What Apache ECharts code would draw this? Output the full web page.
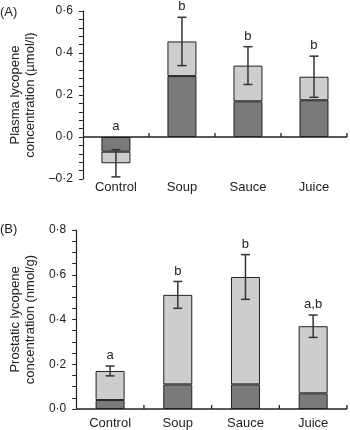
<!DOCTYPE html>
<html>
<head>
<meta charset="utf-8">
<script src="https://cdn.jsdelivr.net/npm/echarts@6/dist/echarts.min.js"></script>
<style>
  html, body { margin: 0; padding: 0; background: #fff; }
  .panel { width: 350px; height: 215px; }
</style>
</head>
<body>
<div class="panel" id="plasma_chart"></div>
<div class="panel" id="prostate_chart"></div>
<script>
const categories = ['Control', 'Soup', 'Sauce', 'Juice'];

// panel A - plasma lycopene (µmol/l)
const plasmaDark = [-0.07, 0.29, 0.17, 0.175];
const plasmaTotal = [-0.125, 0.455, 0.34, 0.287];
const plasmaErr = [0.065, 0.115, 0.09, 0.098];
const plasmaLetters = ['a', 'b', 'b', 'b'];

// panel B - prostatic lycopene (nmol/g)
const prostateDark = [0.04, 0.11, 0.11, 0.07];
const prostateTotal = [0.17, 0.51, 0.59, 0.37];
const prostateErr = [0.022, 0.06, 0.1, 0.05];
const prostateLetters = ['a', 'b', 'b', 'a,b'];

const FONT = 'Liberation Sans, Arial, sans-serif';
const INK = '#222';
const DARK = '#7a7a7a';
const LIGHT = '#cdcdcd';

const fmt = v => {
  if (Math.abs(v) < 1e-9) return '0\u00b70';
  return (v < 0 ? '\u2013' : '') + Math.abs(v).toFixed(1).replace('.', '\u00b7');
};

const valueAxis = (min, max, minorSplit, name) => ({
  type: 'value',
  min,
  max,
  interval: 0.2,
  name,
  nameLocation: 'middle',
  nameGap: 37,
  nameTextStyle: { fontFamily: FONT, fontSize: 13, color: INK, lineHeight: 15 },
  axisLine: { show: true, onZero: false, lineStyle: { color: INK, width: 1.2 } },
  axisTick: { show: true, length: 4, lineStyle: { color: INK, width: 1 } },
  minorTick: { show: true, splitNumber: minorSplit, length: 4, lineStyle: { color: INK, width: 1 } },
  splitLine: { show: false },
  axisLabel: { formatter: fmt, fontFamily: FONT, fontSize: 12, color: INK, margin: 10 },
});

const categoryAxis = margin => ({
  type: 'category',
  data: categories,
  axisLine: { show: false, onZero: false },
  axisTick: { show: false },
  axisLabel: { fontFamily: FONT, fontSize: 13, color: INK, margin },
});

const barSeries = (dark, total) => [
  {
    type: 'bar',
    stack: 'conc',
    barWidth: 29,
    data: dark,
    itemStyle: { color: DARK, borderColor: INK, borderWidth: 1 },
    silent: true,
  },
  {
    type: 'bar',
    stack: 'conc',
    barWidth: 29,
    data: total.map((t, i) => +(t - dark[i]).toFixed(4)),
    itemStyle: { color: LIGHT, borderColor: INK, borderWidth: 1 },
    silent: true,
  },
];

// zero line + upward category ticks, error bars and significance letters
const errorSeries = (total, err, letters) => ({
  type: 'custom',
  z: 10,
  silent: true,
  data: total.map((t, i) => [i, t, err[i]]),
  renderItem: (params, api) => {
    const i = api.value(0);
    const m = api.value(1);
    const e = api.value(2);
    const top = api.coord([i, m + e]);
    const bot = api.coord([i, m - e]);
    const lab = api.coord([i, Math.max(0, m + e)]);
    const zero = api.coord([i, 0]);
    const half = api.size([1, 0])[0] / 2;
    const hw = 4.5;
    const st = { stroke: '#333', lineWidth: 1.5 };
    const axisSt = { stroke: INK, lineWidth: 1.3 };
    return {
      type: 'group',
      children: [
        { type: 'line', shape: { x1: zero[0] - half, y1: zero[1], x2: zero[0] + half, y2: zero[1] }, style: axisSt },
        { type: 'line', shape: { x1: zero[0] + half, y1: zero[1], x2: zero[0] + half, y2: zero[1] - 4 }, style: axisSt },
        { type: 'line', shape: { x1: top[0], y1: top[1], x2: bot[0], y2: bot[1] }, style: st },
        { type: 'line', shape: { x1: top[0] - hw, y1: top[1], x2: top[0] + hw, y2: top[1] }, style: st },
        { type: 'line', shape: { x1: bot[0] - hw, y1: bot[1], x2: bot[0] + hw, y2: bot[1] }, style: st },
        {
          type: 'text',
          x: top[0],
          y: lab[1] - 4,
          style: {
            text: letters[params.dataIndex],
            align: 'center',
            verticalAlign: 'bottom',
            fontFamily: FONT,
            fontSize: 13,
            fill: INK,
          },
        },
      ],
    };
  },
});

const panelLabel = (text, top) => ({
  type: 'text', left: 0, top, style: { text, fontFamily: FONT, fontSize: 13, fill: INK },
});

// (A) plasma
const plasmaChart = echarts.init(document.getElementById('plasma_chart'));
plasmaChart.setOption({
  animation: false,
  grid: { left: 64, right: 3, top: 11, height: 168 },
  xAxis: categoryAxis(2),
  yAxis: valueAxis(-0.2, 0.6, 5, 'Plasma lycopene\nconcentration (\u00b5mol/l)'),
  graphic: [panelLabel('(A)', 6)],
  series: [
    ...barSeries(plasmaDark, plasmaTotal),
    errorSeries(plasmaTotal, plasmaErr, plasmaLetters),
  ],
});

// (B) prostate
const prostateChart = echarts.init(document.getElementById('prostate_chart'));
prostateChart.setOption({
  animation: false,
  grid: { left: 64, right: 3, top: 15, height: 181 },
  xAxis: categoryAxis(8),
  yAxis: valueAxis(0, 0.8, 4, 'Prostatic lycopene\nconcentration (nmol/g)'),
  graphic: [panelLabel('(B)', 8)],
  series: [
    ...barSeries(prostateDark, prostateTotal),
    errorSeries(prostateTotal, prostateErr, prostateLetters),
  ],
});
</script>
</body>
</html>
